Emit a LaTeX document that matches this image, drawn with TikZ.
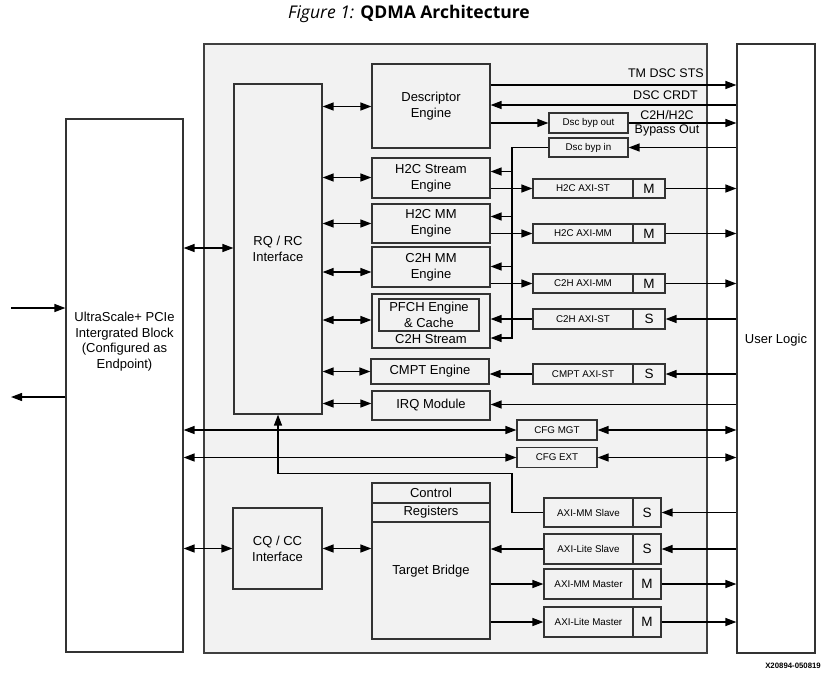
\documentclass[tikz,border=0pt]{standalone}
\usepackage{fontspec}
\setmainfont{Liberation Sans}
\newfontfamily\titlefont{Open Sans}
\usetikzlibrary{arrows.meta}
\begin{document}
\begin{tikzpicture}[x=1pt,y=-1pt]
\tikzset{
 box/.style={draw=black!80, line width=1.2pt, fill=gray!10, inner sep=0pt, align=center, font=\fontsize{13}{16}\selectfont},
 sbox/.style={box, font=\fontsize{9.8}{11}\selectfont},
 msbox/.style={box, font=\fontsize{13.5}{16}\selectfont, minimum width=28pt},
 lbl/.style={inner sep=0pt, align=center, font=\fontsize{13}{16}\selectfont},
 arr/.style={line width=1.3pt, -{Triangle[length=11pt,width=8pt]}},
 biarr/.style={line width=1.3pt, {Triangle[length=11pt,width=8pt]}-{Triangle[length=11pt,width=8pt]}},
}
\useasboundingbox (0,0) rectangle (825,675);
% title
\node[font=\titlefont\fontsize{17.5}{20}\selectfont] (title) at (409,14) {\textit{Figure 1:} \textbf{QDMA Architecture}};
\node[anchor=east, inner sep=0pt, font=\bfseries\fontsize{7.8}{9}\selectfont] (code) at (821,666) {X20894-050819};

% big boxes
\node[box, draw=black!75, line width=1.4pt, minimum width=503pt, minimum height=609pt] (qdma) at (455.5,348.5) {};
\node[box, fill=white, minimum width=78pt, minimum height=609pt] (user) at (776,348.5) {};
\node[lbl] (userlbl) at (776,340) {User Logic};
\node[box, fill=white, minimum width=117pt, minimum height=533pt] (pcie) at (124.5,385.5) {};
\node[lbl, font=\fontsize{13}{15.7}\selectfont] (pcielbl) at (124.5,341.5) {UltraScale+ PCIe\\Intergrated Block\\(Configured as\\Endpoint)};

% inner blocks
\node[box, minimum width=88pt, minimum height=330pt] (rqrc) at (278,249) {RQ / RC\\Interface};
\node[box, minimum width=118pt, minimum height=84pt] (desc) at (431,106) {Descriptor\\Engine};
\node[box, minimum width=118pt, minimum height=40pt] (h2cs) at (431,178) {H2C Stream\\Engine};
\node[box, minimum width=118pt, minimum height=39pt] (h2cmm) at (431,223.5) {H2C MM\\Engine};
\node[box, minimum width=118pt, minimum height=40pt] (c2hmm) at (431,267) {C2H MM\\Engine};
\node[box, minimum width=118pt, minimum height=54pt] (c2hst) at (431,321) {};
\node[box, minimum width=100pt, minimum height=32pt] (pfch) at (429,315) {PFCH Engine\\\& Cache};
\node[lbl] (c2hstlbl) at (431,339.5) {C2H Stream};
\node[box, minimum width=118pt, minimum height=25pt] (cmpt) at (430,371.5) {CMPT Engine};
\node[box, minimum width=118pt, minimum height=29pt] (irq) at (431,405.5) {IRQ Module};
\node[box, minimum width=118pt, minimum height=20pt] (ctrl) at (431,493) {Control};
\node[box, minimum width=118pt, minimum height=19pt] (regs) at (431,512.5) {Registers};
\node[box, minimum width=118pt, minimum height=117pt] (tb) at (431,580.5) {};
\node[lbl] (tblbl) at (431,571) {Target Bridge};
\node[box, minimum width=89pt, minimum height=81pt] (cqcc) at (277.5,548.5) {CQ / CC\\Interface};

% small boxes
\node[sbox, minimum width=79pt, minimum height=20pt] (dscout) at (588.5,123) {Dsc byp out};
\node[sbox, minimum width=79pt, minimum height=19pt] (dscin) at (588.5,147.5) {Dsc byp in};
\node[sbox, minimum width=100pt, minimum height=19pt] (h2caxist) at (583,188.5) {H2C AXI-ST};
\node[msbox, minimum width=32pt, minimum height=19pt] (h2caxistm) at (649,188.5) {M};
\node[sbox, minimum width=100pt, minimum height=19pt] (h2caximm) at (583,233.5) {H2C AXI-MM};
\node[msbox, minimum width=32pt, minimum height=19pt] (h2caximmm) at (649,233.5) {M};
\node[sbox, minimum width=100pt, minimum height=19pt] (c2haximm) at (583,283.5) {C2H AXI-MM};
\node[msbox, minimum width=32pt, minimum height=19pt] (c2haximmm) at (649,283.5) {M};
\node[sbox, minimum width=100pt, minimum height=20pt] (c2haxist) at (583,319) {C2H AXI-ST};
\node[msbox, minimum width=32pt, minimum height=20pt] (c2haxists) at (649,319) {S};
\node[sbox, minimum width=100pt, minimum height=20pt] (cmptaxist) at (583,374) {CMPT AXI-ST};
\node[msbox, minimum width=32pt, minimum height=20pt] (cmptaxists) at (649,374) {S};
\node[sbox, minimum width=80pt, minimum height=20pt] (cfgmgt) at (557,430) {CFG MGT};
\node[sbox, minimum width=80pt, minimum height=20pt] (cfgext) at (557,457.5) {CFG EXT};
\node[sbox, minimum width=89pt, minimum height=29pt] (axmms) at (588.5,512.5) {AXI-MM Slave};
\node[msbox, minimum height=29pt] (axmmss) at (647,512.5) {S};
\node[sbox, minimum width=89pt, minimum height=30pt] (axls) at (588.5,549) {AXI-Lite Slave};
\node[msbox, minimum height=30pt] (axlss) at (647,549) {S};
\node[sbox, minimum width=89pt, minimum height=30pt] (axmmm) at (588.5,584) {AXI-MM Master};
\node[msbox, minimum height=30pt] (axmmmm) at (647,584) {M};
\node[sbox, minimum width=89pt, minimum height=30pt] (axlm) at (588.5,622) {AXI-Lite Master};
\node[msbox, minimum height=30pt] (axlmm) at (647,622) {M};

% labels on right
\node[lbl, font=\fontsize{12.5}{13.3}\selectfont, anchor=east] (tmlbl) at (704,73) {TM DSC STS};
\node[lbl, font=\fontsize{12.5}{13.3}\selectfont, anchor=east] (crlbl) at (698,95) {DSC CRDT};
\node[lbl, font=\fontsize{12.5}{14}\selectfont] (byplbl) at (667,123.5) {C2H/H2C\\Bypass Out};

% left external arrows
\coordinate (inL) at (11,308);
\coordinate (outL) at (11,397);
\draw[arr] (inL) -- (pcie.west |- inL);
\draw[arr] (pcie.west |- outL) -- (outL);

% PCIe <-> interfaces
\draw[biarr] (pcie.east |- 0,248) -- (rqrc.west |- 0,248);
\draw[biarr] (pcie.east |- cqcc) -- (cqcc.west);
\draw[biarr] (cqcc.east) -- (tb.west |- cqcc);

% RQ/RC <-> engines
\draw[biarr] (rqrc.east |- 0,106.5) -- (desc.west |- 0,106.5);
\draw[biarr] (rqrc.east |- 0,177.5) -- (h2cs.west |- 0,177.5);
\draw[biarr] (rqrc.east |- 0,223.5) -- (h2cmm.west |- 0,223.5);
\draw[biarr] (rqrc.east |- 0,272) -- (c2hmm.west |- 0,272);
\draw[biarr] (rqrc.east |- 0,320) -- (c2hst.west |- 0,320);
\draw[biarr] (rqrc.east |- 0,371.5) -- (cmpt.west |- 0,371.5);
\draw[biarr] (rqrc.east |- 0,403.5) -- (irq.west |- 0,403.5);

% descriptor engine
\draw[arr] (desc.east |- 0,85) -- (user.west |- 0,85);
\draw[arr] (user.west |- 0,105) -- (desc.east |- 0,105);
\draw[arr] (desc.east |- dscout) -- (dscout.west);
\draw[arr] (dscout.east) -- (user.west |- dscout);
\draw[arr] (user.west |- dscin) -- (dscin.east);
\draw[arr] (dscin.west) -| (512,338) -- (c2hst.east |- 0,338);
\draw[arr] (512,171.5) -- (h2cs.east |- 0,171.5);
\draw[arr] (512,216.5) -- (h2cmm.east |- 0,216.5);
\draw[arr] (512,266.5) -- (c2hmm.east |- 0,266.5);

% engines <-> AXI boxes
\draw[arr] (h2cs.east |- h2caxist) -- (h2caxist.west);
\draw[arr] (h2cmm.east |- h2caximm) -- (h2caximm.west);
\draw[arr] (c2hmm.east |- c2haximm) -- (c2haximm.west);
\draw[arr] (c2haxist.west) -- (c2hst.east |- c2haxist);
\draw[arr] (cmptaxist.west) -- (cmpt.east |- cmptaxist);
\draw[arr] (h2caxistm.east) -- (user.west |- h2caxistm);
\draw[arr] (h2caximmm.east) -- (user.west |- h2caximmm);
\draw[arr] (c2haximmm.east) -- (user.west |- c2haximmm);
\draw[arr] (user.west |- c2haxists) -- (c2haxists.east);
\draw[arr] (user.west |- cmptaxists) -- (cmptaxists.east);
\draw[arr] (user.west |- 0,404.5) -- (irq.east |- 0,404.5);

% CFG
\draw[biarr] (pcie.east |- cfgmgt) -- (cfgmgt.west);
\draw[biarr] (cfgmgt.east) -- (user.west |- cfgmgt);
\draw[biarr] (pcie.east |- cfgext) -- (cfgext.west);
\draw[biarr] (cfgext.east) -- (user.west |- cfgext);

% AXI slaves / masters
\draw[arr] (axmms.west) -| (512,473.5) -| (rqrc.south);
\draw[arr] (user.west |- axmmss) -- (axmmss.east);
\draw[arr] (user.west |- axlss) -- (axlss.east);
\draw[arr] (axls.west) -- (tb.east |- axls);
\draw[arr] (tb.east |- axmmm) -- (axmmm.west);
\draw[arr] (tb.east |- axlm) -- (axlm.west);
\draw[arr] (axmmmm.east) -- (user.west |- axmmmm);
\draw[arr] (axlmm.east) -- (user.west |- axlmm);
\end{tikzpicture}
\end{document}
